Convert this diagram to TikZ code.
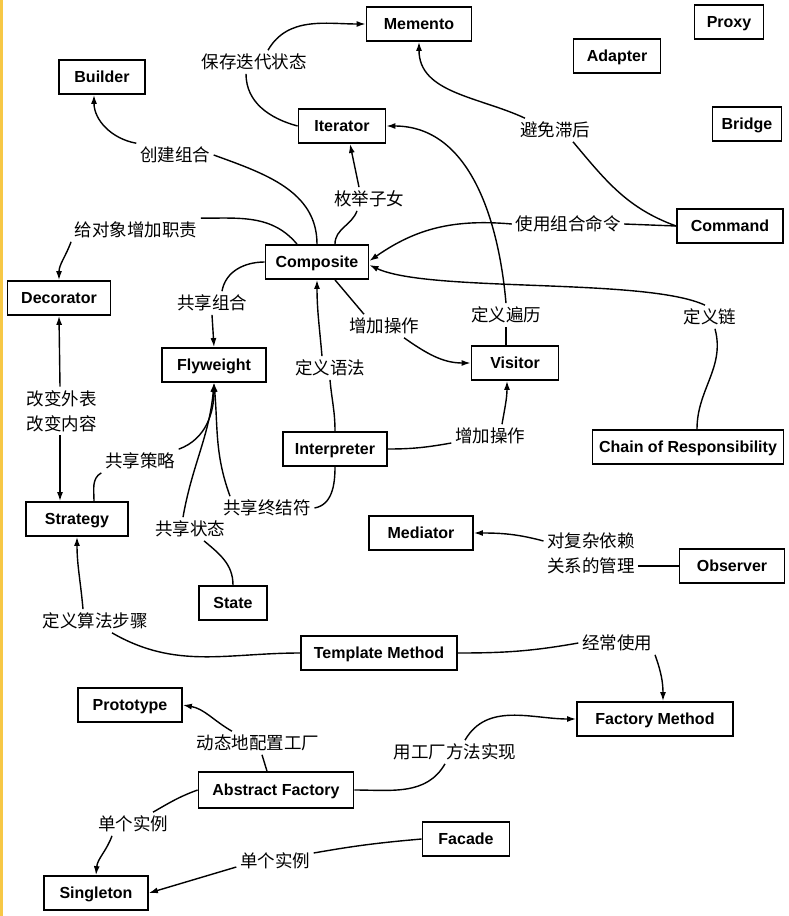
\documentclass[tikz,border=0pt]{standalone}
\usepackage{fontspec}
\setmainfont{Liberation Sans}
\newfontfamily\cjk{Noto Sans CJK SC}
\usepackage{tikz}
\usetikzlibrary{arrows.meta}
\definecolor{randgelb}{RGB}{247,200,70}

\begin{document}
\begin{tikzpicture}[x=1pt,y=1pt,line width=1.4pt,
  pbox/.style={draw,line width=1.8pt,minimum height=34pt,inner sep=0pt,text height=11.5pt,text depth=0pt,font=\fontsize{16}{16}\selectfont\bfseries},
  lab/.style={inner sep=3pt,align=center,font=\cjk\fontsize{17.5}{25}\selectfont},
  arr/.style={-{Latex[length=9pt,width=6pt]}}]
\useasboundingbox (0,0) rectangle (788,-916);
\fill[randgelb] (0,0) rectangle (3,-916);
%Muster (Kaesten)
\node[pbox,minimum width=105pt] (memento) at (419,-24) {Memento};
\node[pbox,minimum width=69pt] (proxy) at (729,-22) {Proxy};
\node[pbox,minimum width=87pt] (adapter) at (617,-56) {Adapter};
\node[pbox,minimum width=69pt] (bridge) at (747,-124) {Bridge};
\node[pbox,minimum width=86pt] (builder) at (102,-77) {Builder};
\node[pbox,minimum width=87pt] (iterator) at (342,-126) {Iterator};
\node[pbox,minimum width=106pt] (command) at (730,-226) {Command};
\node[pbox,minimum width=103pt] (composite) at (317,-262) {Composite};
\node[pbox,minimum width=103pt] (decorator) at (59,-298) {Decorator};
\node[pbox,minimum width=104pt] (flyweight) at (214,-365) {Flyweight};
\node[pbox,minimum width=87pt] (visitor) at (515,-363) {Visitor};
\node[pbox,minimum width=104pt] (interpreter) at (335,-449) {Interpreter};
\node[pbox,minimum width=191pt] (chain) at (688,-447) {Chain of Responsibility};
\node[pbox,minimum width=102pt] (strategy) at (77,-519) {Strategy};
\node[pbox,minimum width=104pt] (mediator) at (421,-533) {Mediator};
\node[pbox,minimum width=105pt] (observer) at (732,-566) {Observer};
\node[pbox,minimum width=68pt] (state) at (233,-603) {State};
\node[pbox,minimum width=156pt] (template) at (379,-653) {Template Method};
\node[pbox,minimum width=104pt] (prototype) at (130,-705) {Prototype};
\node[pbox,minimum width=156pt] (factoryMethod) at (655,-719) {Factory Method};
\node[pbox,minimum width=155pt,minimum height=36pt] (abstractFactory) at (276,-790) {Abstract Factory};
\node[pbox,minimum width=87pt] (facade) at (466,-839) {Facade};
\node[pbox,minimum width=104pt] (singleton) at (96,-893) {Singleton};
%Beschriftungen
\node[lab] (saveState) at (254,-62) {保存迭代状态};
\node[lab] (buildComp) at (175,-155) {创建组合};
\node[lab] (giveResp) at (136,-230) {给对象增加职责};
\node[lab] (enumChildren) at (369,-199) {枚举子女};
\node[lab] (avoidLag) at (555,-130) {避免滞后};
\node[lab] (useCmd) at (568,-224) {使用组合命令};
\node[lab] (defChain) at (710,-317) {定义链};
\node[lab] (defTraverse) at (506,-315) {定义遍历};
\node[lab] (addOpA) at (384,-326) {增加操作};
\node[lab] (shareComp) at (212,-303) {共享组合};
\node[lab] (changeLook) at (62,-411) {改变外表\\改变内容};
\node[lab] (defGrammar) at (330,-368) {定义语法};
\node[lab] (addOpB) at (490,-436) {增加操作};
\node[lab] (shareStrat) at (140,-461) {共享策略};
\node[lab] (shareTerm) at (267,-508) {共享终结符};
\node[lab] (shareState) at (190,-529) {共享状态};
\node[lab] (depMgmt) at (591,-553) {对复杂依赖\\关系的管理};
\node[lab] (defAlgo) at (95,-621) {定义算法步骤};
\node[lab] (oftenUse) at (617,-643) {经常使用};
\node[lab] (dynConf) at (258,-743) {动态地配置工厂};
\node[lab] (implFM) at (455,-752) {用工厂方法实现};
\node[lab] (singleA) at (133,-824) {单个实例};
\node[lab] (singleB) at (275,-861) {单个实例};
%Verbindungen oben
\draw (iterator.west) to[out=165,in=-90] ([xshift=-8pt]saveState.south);
\draw[arr] ([xshift=14pt]saveState.north) to[out=60,in=180] (memento.west);
\draw (composite.north) to[out=90,in=-20] (buildComp.east);
\draw[arr] (buildComp.north west) to[out=170,in=-90] ([xshift=-8pt]builder.south);
\draw ([xshift=-20pt]composite.north) to[out=130,in=0] (giveResp.north east);
\draw[arr] (giveResp.south west) to[out=-110,in=90] (decorator.north);
\draw ([xshift=18pt]composite.north) to[out=90,in=-110] ([xshift=-12pt]enumChildren.south);
\draw[arr] ([xshift=-10pt]enumChildren.north) -- ([xshift=8pt]iterator.south);
\draw (command.west) -- (useCmd.east);
\draw[arr] (useCmd.west) to[out=175,in=35] ([yshift=1pt]composite.east);
\draw (command.west) to[out=160,in=-50] ([xshift=18pt]avoidLag.south);
\draw[arr] ([xshift=-30pt]avoidLag.north) to[out=155,in=-90] (memento.south);
\draw ([xshift=9pt]chain.north) to[out=90,in=-75] ([xshift=5pt]defChain.south);
\draw[arr] ([xshift=-5pt]defChain.north) to[out=155,in=-25,looseness=0.5] ([yshift=-3pt]composite.east);
\draw ([xshift=-9pt]visitor.north) -- (defTraverse.south);
\draw[arr] (defTraverse.north) to[out=95,in=0] (iterator.east);
%Mitte
\draw ([xshift=18pt]composite.south) -- ([xshift=-20pt]addOpA.north);
\draw[arr] ([xshift=20pt]addOpA.south) to[out=-35,in=180] (visitor.west);
\draw (interpreter.north) to[out=90,in=-85] (defGrammar.south);
\draw[arr] ([xshift=-8pt]defGrammar.north) to[out=95,in=-90] (composite.south);
\draw (interpreter.east) to[out=0,in=190] ([yshift=-7pt]addOpB.west);
\draw[arr] ([xshift=12pt]addOpB.north) to[out=80,in=-90] ([xshift=-8pt]visitor.south);
\draw (composite.west) to[out=180,in=80] ([xshift=10pt]shareComp.north);
\draw[arr] (shareComp.south) -- (flyweight.north);
\draw[arr] ([xshift=-2pt]changeLook.north) -- (decorator.south);
\draw[arr] ([xshift=-2pt]changeLook.south) -- ([xshift=-17pt]strategy.north);
\draw ([xshift=17pt]strategy.north) to[out=90,in=-150] (shareStrat.south west);
\draw[arr] (shareStrat.north east) to[out=20,in=-90] (flyweight.south);
\draw (state.north) to[out=90,in=-40] ([xshift=14pt]shareState.south);
\draw[arr] ([xshift=-7pt]shareState.north) to[out=80,in=-95] (flyweight.south);
\draw (interpreter.south) to[out=-90,in=10] (shareTerm.east);
\draw[arr] ([xshift=-37pt]shareTerm.north) to[out=110,in=-85] (flyweight.south);
\draw (observer.west) -- ([yshift=-13pt]depMgmt.east);
\draw[arr] ([yshift=12pt]depMgmt.west) to[out=165,in=0] (mediator.east);
%Verbindungen unten
\draw (template.west) to[out=180,in=-30] ([xshift=17pt]defAlgo.south);
\draw[arr] ([xshift=-12pt]defAlgo.north) to[out=95,in=-90] (strategy.south);
\draw (template.east) to[out=0,in=190] (oftenUse.west);
\draw[arr] ([xshift=38pt]oftenUse.south) to[out=-70,in=90] ([xshift=8pt]factoryMethod.north);
\draw ([xshift=-9pt]abstractFactory.north) -- ([xshift=4pt]dynConf.south);
\draw[arr] ([xshift=-26pt]dynConf.north) to[out=150,in=-10] (prototype.east);
\draw (abstractFactory.east) to[out=0,in=-120] ([xshift=-10pt]implFM.south);
\draw[arr] ([xshift=10pt]implFM.north) to[out=60,in=180] (factoryMethod.west);
\draw (abstractFactory.west) to[out=200,in=30] ([xshift=20pt]singleA.north);
\draw[arr] ([xshift=-21pt]singleA.south) to[out=-110,in=85] (singleton.north);
\draw (facade.west) to[out=185,in=10] ([yshift=8pt]singleB.east);
\draw[arr] ([yshift=-6pt]singleB.west) -- (singleton.east);
\end{tikzpicture}
\end{document}
